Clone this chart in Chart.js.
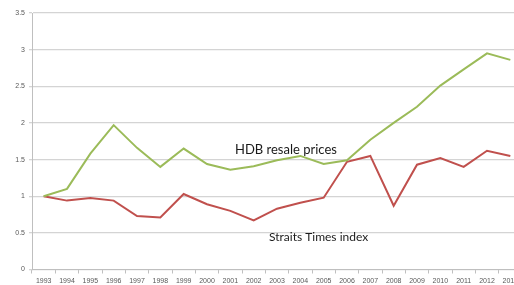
<!DOCTYPE html>
<html>
<head>
<meta charset="utf-8">
<script src="https://cdn.jsdelivr.net/npm/chart.js@4/dist/chart.umd.min.js"></script>
<style>
html,body{margin:0;padding:0;overflow:hidden;background:#fff;}
#wrap{width:522px;height:285px;}
</style>
</head>
<body>
<div id="wrap"><canvas id="c" width="522" height="285"></canvas></div>
<script>
const years = ['1993','1994','1995','1996','1997','1998','1999','2000','2001','2002','2003','2004','2005','2006','2007','2008','2009','2010','2011','2012','2013'];
const hdbResale = [1.0,1.10,1.58,1.97,1.66,1.40,1.65,1.44,1.36,1.41,1.49,1.55,1.44,1.49,1.77,2.0,2.22,2.51,2.73,2.95,2.86];
const straitsTimes = [1.0,0.94,0.975,0.94,0.73,0.71,1.03,0.89,0.80,0.67,0.83,0.91,0.98,1.47,1.55,0.87,1.43,1.52,1.40,1.62,1.55];
const yTicks = [0,0.5,1,1.5,2,2.5,3,3.5];

const labelPlugin = {
  id: 'seriesLabels',
  afterDatasetsDraw(chart) {
    const ctx = chart.ctx;
    ctx.save();
    ctx.fillStyle = '#1a1a1a';
    ctx.textBaseline = 'middle';
    ctx.textAlign = 'left';
    ctx.font = '13px Lato, "Liberation Sans", Arial, sans-serif';
    ctx.fillText('HDB resale prices', 235, 150);
    ctx.font = '12px Lato, "Liberation Sans", Arial, sans-serif';
    ctx.fillText('Straits Times index', 269, 237);
    ctx.restore();
  }
};

new Chart(document.getElementById('c'), {
  type: 'line',
  data: {
    labels: years,
    datasets: [
      {label:'HDB resale prices', data: hdbResale, borderColor:'#9BBB59', borderWidth:2, pointRadius:0, tension:0, fill:false},
      {label:'Straits Times index', data: straitsTimes, borderColor:'#C0504D', borderWidth:2, pointRadius:0, tension:0, fill:false}
    ]
  },
  options: {
    responsive: false,
    animation: false,
    layout: {padding: {top: 13, right: 0, left: 0, bottom: 0}},
    plugins: {legend: {display:false}, tooltip: {enabled:false}},
    scales: {
      x: {
        type: 'category',
        offset: true,
        grid: {display: true, drawOnChartArea: false, drawTicks: true, tickLength: 4, color: '#BFBFBF', offset: true},
        border: {display: true, color: '#BFBFBF', width: 1},
        ticks: {font: {size: 7, family: '"Liberation Sans", Arial, sans-serif'}, color: '#595959', padding: 3, maxRotation: 0, autoSkip: false},
        afterFit(scale) { scale.height = 15.5; }
      },
      y: {
        min: 0, max: 3.5,
        afterBuildTicks(scale) { scale.ticks = yTicks.map(v => ({value: v})); },
        grid: {color: '#D4D4D4', lineWidth: 1.3, tickLength: 3},
        border: {display: true, color: '#BFBFBF', width: 1},
        ticks: {font: {size: 7, family: '"Liberation Sans", Arial, sans-serif'}, color: '#595959', padding: 4, callback: (v) => String(v)},
        afterFit(scale) { scale.width = 32; }
      }
    }
  },
  plugins: [labelPlugin]
});
</script>
</body>
</html>
